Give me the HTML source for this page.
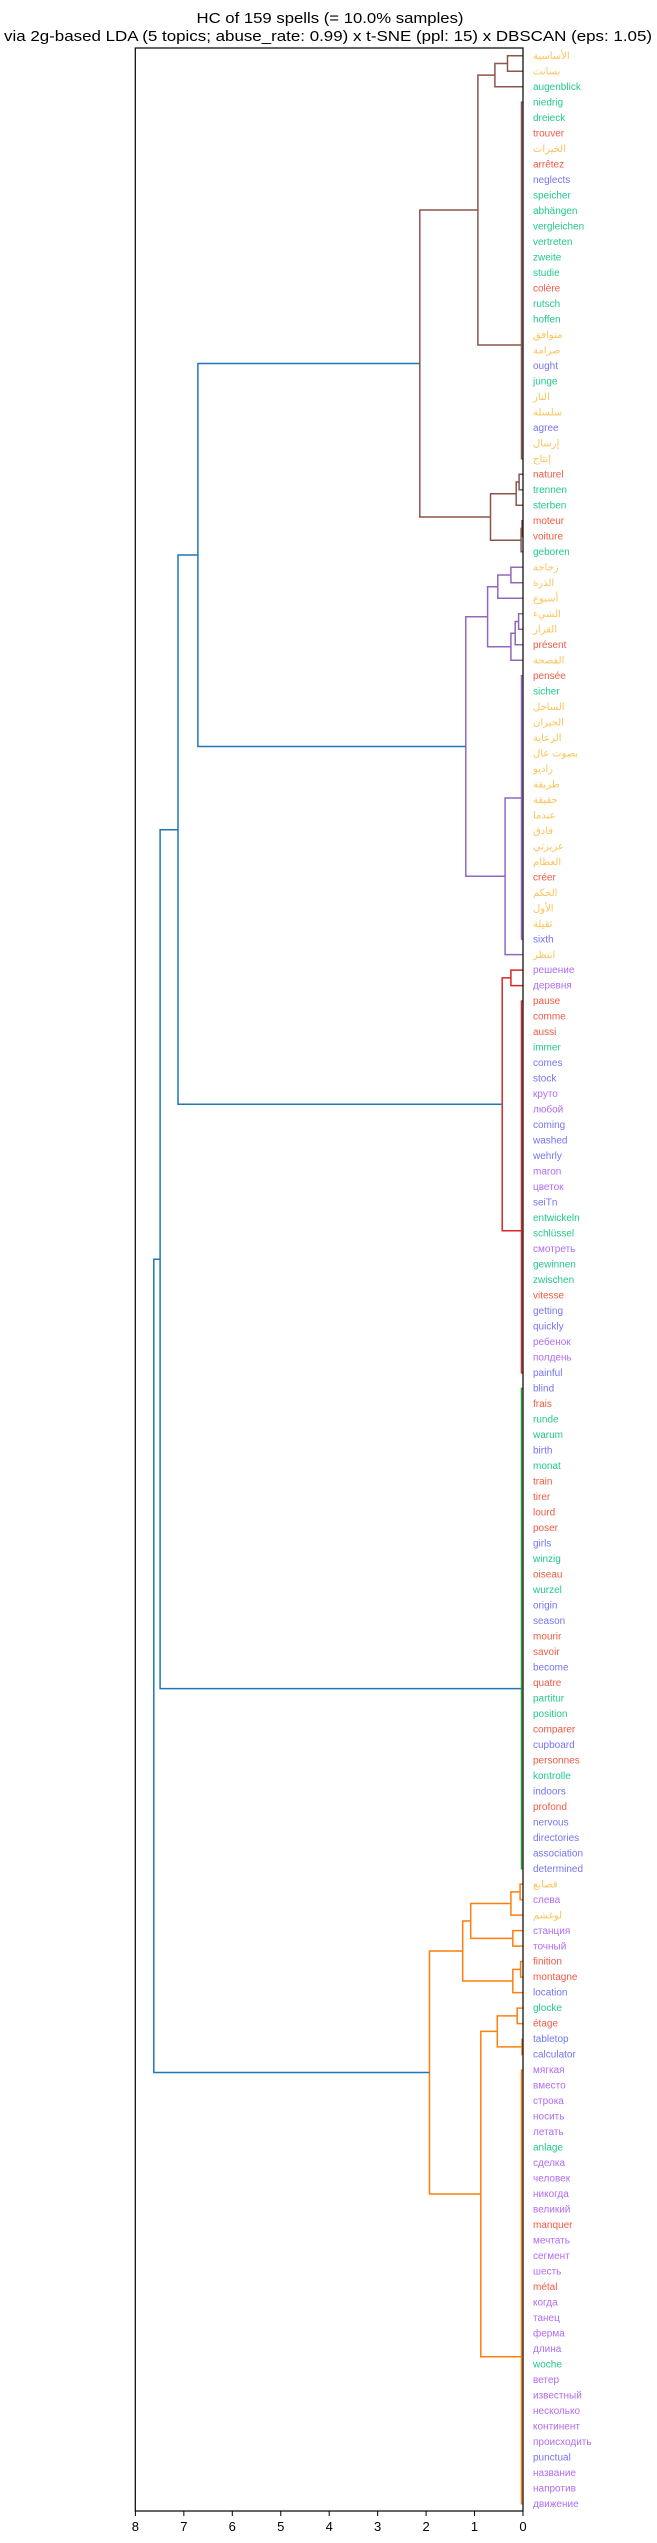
<!DOCTYPE html>
<html><head><meta charset="utf-8"><style>
html,body{margin:0;padding:0;background:#fff}
svg{display:block}
text{font-family:"Liberation Sans","DejaVu Sans",sans-serif}
.l text{font-size:10px}
.o{fill:#fdc35a}.g{fill:#22c98b}.r{fill:#f25a43}.b{fill:#7474f5}.p{fill:#b06cf5}
path{fill:none;stroke-width:1.5}
</style></head><body>
<svg width="657" height="2543" viewBox="0 0 657 2543" xmlns="http://www.w3.org/2000/svg">
<text x="330" y="23" font-size="15" text-anchor="middle" textLength="267" lengthAdjust="spacingAndGlyphs">HC of 159 spells (= 10.0% samples)</text>
<text x="328" y="41" font-size="15" text-anchor="middle" textLength="648" lengthAdjust="spacingAndGlyphs">via 2g-based LDA (5 topics; abuse_rate: 0.99) x t-SNE (ppl: 15) x DBSCAN (eps: 1.05)</text>

<g stroke="#8c564b">
<path d="M523 55.7 H507.5 V71.2 H523"/>
<path d="M507.5 63.45 H494.9 V86.7 H523"/>
<path d="M523 102.2 H521.5 V458.8 H523"/>
<path d="M494.9 75.1 H477.9 V345 H521.5"/>
<path d="M523 474.3 H519.1 V489.8 H523"/>
<path d="M519.1 482 H516.2 V505.3 H523"/>
<path d="M523 520.8 H522 V536.3 H523"/>
<path d="M522 528.5 H521.1 V551.8 H523"/>
<path d="M516.2 493.7 H490.5 V540.2 H521.1"/>
<path d="M477.9 210 H419.8 V517 H490.5"/>
</g>
<g stroke="#9467bd">
<path d="M523 567.3 H510.9 V582.8 H523"/>
<path d="M510.9 575 H497.8 V598.3 H523"/>
<path d="M523 613.8 H518.6 V629.3 H523"/>
<path d="M518.6 621.5 H515.2 V644.8 H523"/>
<path d="M515.2 633.2 H510.9 V660.3 H523"/>
<path d="M497.8 586.7 H487.6 V646.7 H510.9"/>
<path d="M523 675.8 H521.5 V939.1 H523"/>
<path d="M521.5 798 H505.1 V954.6 H523"/>
<path d="M487.6 616.7 H465.8 V876.3 H505.1"/>
</g>
<g stroke="#d62728">
<path d="M523 970.1 H510.9 V985.6 H523"/>
<path d="M523 1001.1 H521.5 V1372.9 H523"/>
<path d="M510.9 977.9 H502.2 V1230.7 H521.5"/>
</g>
<g stroke="#2ca02c">
<path d="M523 1388.4 H521.5 V1868.6 H523"/>
</g>
<g stroke="#ff7f0e">
<path d="M523 1884.1 H520.1 V1899.6 H523"/>
<path d="M520.1 1891.9 H510.9 V1915.1 H523"/>
<path d="M523 1930.6 H512.8 V1946.1 H523"/>
<path d="M510.9 1903.5 H470.7 V1938.4 H512.8"/>
<path d="M523 1961.6 H520.6 V1977.1 H523"/>
<path d="M520.6 1969.4 H512.8 V1992.6 H523"/>
<path d="M470.7 1921 H462.7 V1981 H512.8"/>
<path d="M523 2008.1 H517.2 V2023.6 H523"/>
<path d="M523 2039.1 H522 V2054.6 H523"/>
<path d="M517.2 2015.9 H497.3 V2046.9 H522"/>
<path d="M523 2070.1 H521.5 V2503.8 H523"/>
<path d="M497.3 2031.4 H480.8 V2356.7 H521.5"/>
<path d="M462.7 1951 H429.5 V2194 H480.8"/>
</g>
<g stroke="#1f77b4">
<path d="M419.8 363.5 H197.9 V746.5 H465.8"/>
<path d="M197.9 555 H178 V1104.3 H502.2"/>
<path d="M178 829.7 H160.1 V1688.6 H521.5"/>
<path d="M160.1 1259.2 H153.8 V2072.5 H429.5"/>
</g>

<rect x="135.3" y="48" width="387.7" height="2463" fill="none" stroke="#000" stroke-width="1.2"/>
<g stroke="#000" stroke-width="1">
<line x1="523" y1="2511" x2="523" y2="2516"/><line x1="474.55" y1="2511" x2="474.55" y2="2516"/><line x1="426.1" y1="2511" x2="426.1" y2="2516"/><line x1="377.65" y1="2511" x2="377.65" y2="2516"/><line x1="329.2" y1="2511" x2="329.2" y2="2516"/><line x1="280.75" y1="2511" x2="280.75" y2="2516"/><line x1="232.3" y1="2511" x2="232.3" y2="2516"/><line x1="183.85" y1="2511" x2="183.85" y2="2516"/><line x1="135.4" y1="2511" x2="135.4" y2="2516"/>
</g>
<g font-size="13" text-anchor="middle">
<text x="523" y="2531">0</text><text x="474.55" y="2531">1</text><text x="426.1" y="2531">2</text><text x="377.65" y="2531">3</text><text x="329.2" y="2531">4</text><text x="280.75" y="2531">5</text><text x="232.3" y="2531">6</text><text x="183.85" y="2531">7</text><text x="135.4" y="2531">8</text>
</g>

<g class="l">
<text x="533" y="59.2" class="o">الأساسية</text>
<text x="533" y="74.7" class="o">بسانت</text>
<text x="533" y="90.2" class="g">augenblick</text>
<text x="533" y="105.7" class="g">niedrig</text>
<text x="533" y="121.2" class="g">dreieck</text>
<text x="533" y="136.7" class="r">trouver</text>
<text x="533" y="152.2" class="o">الخيرات</text>
<text x="533" y="167.7" class="r">arrêtez</text>
<text x="533" y="183.1" class="b">neglects</text>
<text x="533" y="198.6" class="g">speicher</text>
<text x="533" y="214.1" class="g">abhängen</text>
<text x="533" y="229.6" class="g">vergleichen</text>
<text x="533" y="245.1" class="g">vertreten</text>
<text x="533" y="260.6" class="g">zweite</text>
<text x="533" y="276.1" class="g">studie</text>
<text x="533" y="291.6" class="r">colère</text>
<text x="533" y="307.1" class="g">rutsch</text>
<text x="533" y="322.6" class="g">hoffen</text>
<text x="533" y="338.1" class="o">متوافق</text>
<text x="533" y="353.6" class="o">صرامة</text>
<text x="533" y="369.1" class="b">ought</text>
<text x="533" y="384.5" class="g">junge</text>
<text x="533" y="400.0" class="o">النار</text>
<text x="533" y="415.5" class="o">سلسلة</text>
<text x="533" y="431.0" class="b">agree</text>
<text x="533" y="446.5" class="o">إرسال</text>
<text x="533" y="462.0" class="o">إنتاج</text>
<text x="533" y="477.5" class="r">naturel</text>
<text x="533" y="493.0" class="g">trennen</text>
<text x="533" y="508.5" class="g">sterben</text>
<text x="533" y="524.0" class="r">moteur</text>
<text x="533" y="539.5" class="r">voiture</text>
<text x="533" y="555.0" class="g">geboren</text>
<text x="533" y="570.5" class="o">زجاجة</text>
<text x="533" y="585.9" class="o">الذرة</text>
<text x="533" y="601.4" class="o">أسبوع</text>
<text x="533" y="616.9" class="o">الشيء</text>
<text x="533" y="632.4" class="o">القرار</text>
<text x="533" y="647.9" class="r">présent</text>
<text x="533" y="663.4" class="o">الفصحة</text>
<text x="533" y="678.9" class="r">pensée</text>
<text x="533" y="694.4" class="g">sicher</text>
<text x="533" y="709.9" class="o">الساحل</text>
<text x="533" y="725.4" class="o">الجيران</text>
<text x="533" y="740.9" class="o">الرعاية</text>
<text x="533" y="756.4" class="o">بصوت عال</text>
<text x="533" y="771.8" class="o">راديو</text>
<text x="533" y="787.3" class="o">طريقة</text>
<text x="533" y="802.8" class="o">حقيقة</text>
<text x="533" y="818.3" class="o">عندما</text>
<text x="533" y="833.8" class="o">فادق</text>
<text x="533" y="849.3" class="o">عزيزتي</text>
<text x="533" y="864.8" class="o">العظام</text>
<text x="533" y="880.3" class="r">créer</text>
<text x="533" y="895.8" class="o">الحكم</text>
<text x="533" y="911.3" class="o">الأول</text>
<text x="533" y="926.8" class="o">ثقيلة</text>
<text x="533" y="942.3" class="b">sixth</text>
<text x="533" y="957.8" class="o">انتظر</text>
<text x="533" y="973.2" class="p">решение</text>
<text x="533" y="988.7" class="p">деревня</text>
<text x="533" y="1004.2" class="r">pause</text>
<text x="533" y="1019.7" class="r">comme</text>
<text x="533" y="1035.2" class="r">aussi</text>
<text x="533" y="1050.7" class="g">immer</text>
<text x="533" y="1066.2" class="b">comes</text>
<text x="533" y="1081.7" class="b">stock</text>
<text x="533" y="1097.2" class="p">круто</text>
<text x="533" y="1112.7" class="p">любой</text>
<text x="533" y="1128.2" class="b">coming</text>
<text x="533" y="1143.7" class="b">washed</text>
<text x="533" y="1159.2" class="b">wehrly</text>
<text x="533" y="1174.6" class="p">maron</text>
<text x="533" y="1190.1" class="p">цветок</text>
<text x="533" y="1205.6" class="b">seiTn</text>
<text x="533" y="1221.1" class="g">entwickeln</text>
<text x="533" y="1236.6" class="g">schlüssel</text>
<text x="533" y="1252.1" class="p">смотреть</text>
<text x="533" y="1267.6" class="g">gewinnen</text>
<text x="533" y="1283.1" class="g">zwischen</text>
<text x="533" y="1298.6" class="r">vitesse</text>
<text x="533" y="1314.1" class="b">getting</text>
<text x="533" y="1329.6" class="b">quickly</text>
<text x="533" y="1345.1" class="p">ребенок</text>
<text x="533" y="1360.5" class="p">полдень</text>
<text x="533" y="1376.0" class="b">painful</text>
<text x="533" y="1391.5" class="b">blind</text>
<text x="533" y="1407.0" class="r">frais</text>
<text x="533" y="1422.5" class="g">runde</text>
<text x="533" y="1438.0" class="g">warum</text>
<text x="533" y="1453.5" class="b">birth</text>
<text x="533" y="1469.0" class="g">monat</text>
<text x="533" y="1484.5" class="r">train</text>
<text x="533" y="1500.0" class="r">tirer</text>
<text x="533" y="1515.5" class="r">lourd</text>
<text x="533" y="1531.0" class="r">poser</text>
<text x="533" y="1546.5" class="b">girls</text>
<text x="533" y="1561.9" class="g">winzig</text>
<text x="533" y="1577.4" class="r">oiseau</text>
<text x="533" y="1592.9" class="g">wurzel</text>
<text x="533" y="1608.4" class="b">origin</text>
<text x="533" y="1623.9" class="b">season</text>
<text x="533" y="1639.4" class="r">mourir</text>
<text x="533" y="1654.9" class="r">savoir</text>
<text x="533" y="1670.4" class="b">become</text>
<text x="533" y="1685.9" class="r">quatre</text>
<text x="533" y="1701.4" class="g">partitur</text>
<text x="533" y="1716.9" class="g">position</text>
<text x="533" y="1732.4" class="r">comparer</text>
<text x="533" y="1747.9" class="b">cupboard</text>
<text x="533" y="1763.3" class="r">personnes</text>
<text x="533" y="1778.8" class="g">kontrolle</text>
<text x="533" y="1794.3" class="b">indoors</text>
<text x="533" y="1809.8" class="r">profond</text>
<text x="533" y="1825.3" class="b">nervous</text>
<text x="533" y="1840.8" class="b">directories</text>
<text x="533" y="1856.3" class="b">association</text>
<text x="533" y="1871.8" class="b">determined</text>
<text x="533" y="1887.3" class="o">قصابع</text>
<text x="533" y="1902.8" class="p">слева</text>
<text x="533" y="1918.3" class="o">لوغشم</text>
<text x="533" y="1933.8" class="p">станция</text>
<text x="533" y="1949.3" class="p">точный</text>
<text x="533" y="1964.7" class="r">finition</text>
<text x="533" y="1980.2" class="r">montagne</text>
<text x="533" y="1995.7" class="b">location</text>
<text x="533" y="2011.2" class="g">glocke</text>
<text x="533" y="2026.7" class="r">étage</text>
<text x="533" y="2042.2" class="b">tabletop</text>
<text x="533" y="2057.7" class="b">calculator</text>
<text x="533" y="2073.2" class="p">мягкая</text>
<text x="533" y="2088.7" class="p">вместо</text>
<text x="533" y="2104.2" class="p">строка</text>
<text x="533" y="2119.7" class="p">носить</text>
<text x="533" y="2135.2" class="p">летать</text>
<text x="533" y="2150.7" class="g">anlage</text>
<text x="533" y="2166.1" class="p">сделка</text>
<text x="533" y="2181.6" class="p">человек</text>
<text x="533" y="2197.1" class="p">никогда</text>
<text x="533" y="2212.6" class="p">великий</text>
<text x="533" y="2228.1" class="r">manquer</text>
<text x="533" y="2243.6" class="p">мечтать</text>
<text x="533" y="2259.1" class="p">сегмент</text>
<text x="533" y="2274.6" class="p">шесть</text>
<text x="533" y="2290.1" class="r">métal</text>
<text x="533" y="2305.6" class="p">когда</text>
<text x="533" y="2321.1" class="p">танец</text>
<text x="533" y="2336.6" class="p">ферма</text>
<text x="533" y="2352.1" class="p">длина</text>
<text x="533" y="2367.5" class="g">woche</text>
<text x="533" y="2383.0" class="p">ветер</text>
<text x="533" y="2398.5" class="p">известный</text>
<text x="533" y="2414.0" class="p">несколько</text>
<text x="533" y="2429.5" class="p">континент</text>
<text x="533" y="2445.0" class="p">происходить</text>
<text x="533" y="2460.5" class="b">punctual</text>
<text x="533" y="2476.0" class="p">название</text>
<text x="533" y="2491.5" class="p">напротив</text>
<text x="533" y="2507.0" class="p">движение</text>
</g>
</svg>
</body></html>
